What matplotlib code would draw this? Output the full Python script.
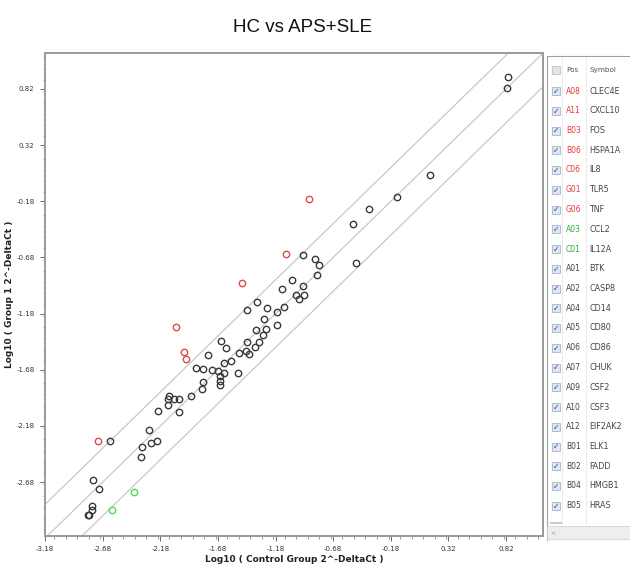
import matplotlib
matplotlib.use('Agg')
import matplotlib.pyplot as plt
from matplotlib.patches import Rectangle
from matplotlib.ticker import MultipleLocator, FixedLocator

# log10(2^-dCt) values, control group (x) vs group 1 (y)
ctrl_x = [0.84, 0.83, 0.16, -0.13, -0.37, -0.51, -0.94, -0.84, -0.80, -0.48,
          -0.82, -1.04, -0.94, -1.12, -1.00, -0.98, -0.93, -1.34, -1.25, -1.43,
          -1.17, -1.11, -1.28, -1.17, -1.26, -1.35, -1.29, -1.32, -1.36, -1.65,
          -1.61, -1.43, -1.50, -1.44, -1.41, -1.77, -1.57, -1.63, -1.87, -1.81,
          -1.73, -1.68, -1.63, -1.51, -1.66, -1.66, -1.81, -1.82, -1.66, -1.91,
          -2.10, -2.11, -2.06, -2.02, -2.11, -2.20, -2.02, -2.28, -2.21, -2.26,
          -2.34, -2.35, -2.62, -2.76, -2.71, -2.77, -2.77, -2.80, -2.81]
grp1_y = [0.93, 0.83, 0.05, -0.14, -0.25, -0.38, -0.66, -0.69, -0.75, -0.73,
          -0.84, -0.88, -0.93, -0.96, -1.01, -1.05, -1.01, -1.08, -1.13, -1.15,
          -1.17, -1.12, -1.23, -1.28, -1.32, -1.33, -1.37, -1.43, -1.48, -1.42,
          -1.49, -1.43, -1.53, -1.51, -1.54, -1.55, -1.60, -1.62, -1.66, -1.67,
          -1.68, -1.69, -1.71, -1.71, -1.74, -1.78, -1.79, -1.85, -1.82, -1.91,
          -1.91, -1.94, -1.94, -1.94, -1.99, -2.05, -2.06, -2.22, -2.31, -2.33,
          -2.37, -2.46, -2.31, -2.66, -2.74, -2.89, -2.93, -2.97, -2.97]

# up-regulated (red) and down-regulated (green)
up_x = [-0.89, -1.09, -1.47, -2.04, -1.97, -1.96, -2.72]
up_y = [-0.16, -0.65, -0.91, -1.30, -1.52, -1.58, -2.31]
down_x = [-2.41, -2.60]
down_y = [-2.77, -2.93]

ticks = [-3.18, -2.68, -2.18, -1.68, -1.18, -0.68, -0.18, 0.32, 0.82]
tick_labels = ['-3.18', '-2.68', '-2.18', '-1.68', '-1.18', '-0.68', '-0.18', '0.32', '0.82']
boundary = 0.301

pos = ['A08', 'A11', 'B03', 'B06', 'C06', 'G01', 'G06', 'A03', 'C01', 'A01', 'A02',
       'A04', 'A05', 'A06', 'A07', 'A09', 'A10', 'A12', 'B01', 'B02', 'B04', 'B05']
symbols = ['CLEC4E', 'CXCL10', 'FOS', 'HSPA1A', 'IL8', 'TLR5', 'TNF', 'CCL2', 'IL12A',
           'BTK', 'CASP8', 'CD14', 'CD80', 'CD86', 'CHUK', 'CSF2', 'CSF3', 'EIF2AK2',
           'ELK1', 'FADD', 'HMGB1', 'HRAS']
pos_colors = ['#e8393a'] * 7 + ['#2fa83a'] * 2 + ['#444444'] * 13

W, H = 630, 569
fig = plt.figure(figsize=(W / 100, H / 100), dpi=100)

ax = fig.add_axes([45 / W, 1 - 536 / H, 498 / W, 483 / H])
xmin, xmax = -3.18, 1.14
ymin, ymax = -3.16, 1.14
ax.set_xlim(xmin, xmax)
ax.set_ylim(ymin, ymax)

lx = [-4, 2]
ax.plot(lx, lx, color='#c8c8c8', lw=0.9, zorder=1)
ax.plot(lx, [v + boundary for v in lx], color='#c8c8c8', lw=0.9, zorder=1)
ax.plot(lx, [v - boundary for v in lx], color='#c8c8c8', lw=0.9, zorder=1)

ax.plot(ctrl_x, grp1_y, 'o', ms=4.6, mfc='none', mec='#3a3a3a', mew=1.0, zorder=3)
ax.plot(up_x, up_y, 'o', ms=4.6, mfc='none', mec='#e04a4a', mew=1.0, zorder=3)
ax.plot(down_x, down_y, 'o', ms=4.6, mfc='none', mec='#4ddc4d', mew=1.0, zorder=3)

ax.xaxis.set_major_locator(FixedLocator(ticks))
ax.yaxis.set_major_locator(FixedLocator(ticks[1:]))
ax.set_xticklabels(tick_labels)
ax.set_yticklabels(tick_labels[1:])
ax.xaxis.set_minor_locator(MultipleLocator(0.1))
ax.yaxis.set_minor_locator(MultipleLocator(0.1))
ax.tick_params(which='major', direction='out', length=3.5, width=0.7, color='#666666',
               labelsize=5, labelcolor='#333333', pad=4)
ax.tick_params(which='minor', direction='out', length=1.8, width=0.6, color='#888888')
for s in ax.spines.values():
    s.set_color('#9a9a9a')
    s.set_linewidth(1.4)

ax.set_xlabel('Log10 ( Control Group 2^-DeltaCt )', fontsize=6.5, fontweight='bold',
              color='#222222', labelpad=2)
ax.set_ylabel('Log10 ( Group 1 2^-DeltaCt )', fontsize=6.5, fontweight='bold',
              color='#222222', labelpad=2)

fig.text(303 / W, 1 - 28 / H, 'HC vs APS+SLE', ha='center', va='center',
         fontsize=13.5, family='Liberation Sans', color='#111111')

# side table with gene positions and symbols
pan = fig.add_axes([546 / W, 1 - 541 / H, 84 / W, 486 / H])
pan.set_xlim(546, 630)
pan.set_ylim(541, 55)
pan.axis('off')
pan.add_patch(Rectangle((546.5, 55.5), 90, 485, fill=False, ec='#a0a0a0', lw=0.8))
pan.plot([562, 562], [58, 524], color='#e6e6e6', lw=0.6)
pan.plot([586, 586], [58, 524], color='#e6e6e6', lw=0.6)
pan.add_patch(Rectangle((547, 526), 83, 13, fc='#eeeeee', ec='#cccccc', lw=0.5))
pan.text(550, 532.5, '<', fontsize=4.5, color='#888888', va='center')

pan.add_patch(Rectangle((552, 66), 8, 8, fc='#e4e4e4', ec='#b8b8b8', lw=0.5))
pan.text(566, 70, 'Pos', fontsize=5.2, color='#555555', va='center')
pan.text(589, 70, 'Symbol', fontsize=5.2, color='#555555', va='center')

row0, dy = 91, 19.75
for i, (p, s, c) in enumerate(zip(pos, symbols, pos_colors)):
    y = row0 + i * dy
    pan.add_patch(Rectangle((552, y - 4), 8, 8, fc='#dfe6f3', ec='#9aa6c0', lw=0.5))
    pan.text(556, y + 0.3, '\u2713', fontsize=5.5, color='#2b4a8a', ha='center', va='center',
             fontweight='bold')
    pan.text(566, y, p, fontsize=5.5, color=c, va='center')
    pan.text(589, y, s, fontsize=5.8, color='#444444', va='center')
pan.plot([551, 561], [row0 + 22 * dy - 3] * 2, color='#cccccc', lw=1.5)

fig.savefig('out.png', dpi=100)
